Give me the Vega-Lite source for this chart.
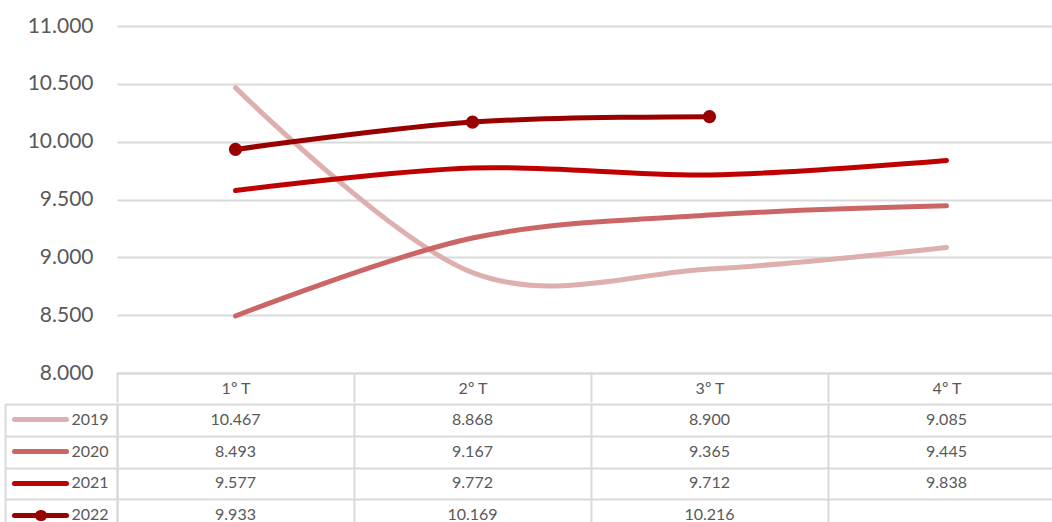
{
  "$schema": "https://vega.github.io/schema/vega-lite/v6.json",
  "padding": {"left": 4, "top": 15, "right": 0, "bottom": 0},
  "background": "white",
  "config": {
    "locale": {"number": {"decimal": ",", "thousands": ".", "grouping": [3], "currency": ["", " €"]}},
    "view": {"stroke": null},
    "font": "Lato"
  },
  "datasets": {
    "d": [
      {"q": "1º T", "year": "2019", "v": 10467},
      {"q": "2º T", "year": "2019", "v": 8868},
      {"q": "3º T", "year": "2019", "v": 8900},
      {"q": "4º T", "year": "2019", "v": 9085},
      {"q": "1º T", "year": "2020", "v": 8493},
      {"q": "2º T", "year": "2020", "v": 9167},
      {"q": "3º T", "year": "2020", "v": 9365},
      {"q": "4º T", "year": "2020", "v": 9445},
      {"q": "1º T", "year": "2021", "v": 9577},
      {"q": "2º T", "year": "2021", "v": 9772},
      {"q": "3º T", "year": "2021", "v": 9712},
      {"q": "4º T", "year": "2021", "v": 9838},
      {"q": "1º T", "year": "2022", "v": 9933},
      {"q": "2º T", "year": "2022", "v": 10169},
      {"q": "3º T", "year": "2022", "v": 10216}
    ]
  },
  "spacing": 0,
  "vconcat": [
    {
      "width": 948,
      "height": 347,
      "data": {"name": "d"},
      "layer": [
        {
          "mark": {"type": "line", "interpolate": "cardinal", "strokeWidth": 5, "strokeCap": "round"},
          "encoding": {
            "x": {
              "field": "q", "type": "nominal", "sort": null,
              "scale": {"type": "band", "domain": ["1º T", "2º T", "3º T", "4º T"], "paddingInner": 0, "paddingOuter": 0},
              "axis": {
                "orient": "bottom", "title": null, "grid": false,
                "domain": true, "domainColor": "#d9d9d9", "domainWidth": 2,
                "ticks": true, "tickBand": "extent", "tickSize": 28, "tickColor": "#d9d9d9", "tickWidth": 2, "tickCap": "square",
                "labelFont": "Lato", "labelFontSize": 16, "labelColor": "#595959",
                "labelPadding": -13, "labelBaseline": "middle", "labelAngle": 0
              }
            },
            "y": {
              "field": "v", "type": "quantitative",
              "scale": {"domain": [8000, 11000], "nice": false, "zero": false},
              "axis": {
                "values": [8000, 8500, 9000, 9500, 10000, 10500, 11000],
                "format": ",.0f", "title": null, "domain": false, "ticks": false,
                "grid": true, "gridColor": "#d9d9d9", "gridWidth": 2,
                "labelFont": "Lato", "labelFontSize": 21, "labelColor": "#595959", "labelPadding": 24
              }
            },
            "color": {
              "field": "year", "type": "nominal",
              "scale": {"domain": ["2019", "2020", "2021", "2022"], "range": ["#DEAFAF", "#CC6666", "#BF0000", "#990000"]},
              "legend": null
            }
          }
        },
        {
          "transform": [{"filter": "datum.year == '2022'"}],
          "mark": {"type": "point", "filled": true, "size": 175, "opacity": 1, "color": "#990000"},
          "encoding": {
            "x": {"field": "q", "type": "nominal", "sort": null},
            "y": {"field": "v", "type": "quantitative"}
          }
        }
      ]
    },
    {
      "width": 948,
      "height": 127,
      "data": {"name": "d"},
      "layer": [
        {
          "mark": {"type": "text", "font": "Lato", "fontSize": 16, "color": "#595959", "baseline": "middle", "align": "center"},
          "encoding": {
            "x": {
              "field": "q", "type": "nominal", "sort": null,
              "scale": {"type": "band", "domain": ["1º T", "2º T", "3º T", "4º T"], "paddingInner": 0, "paddingOuter": 0},
              "axis": {"orient": "bottom", "title": null, "grid": true, "tickBand": "extent", "gridColor": "#d9d9d9", "gridWidth": 2, "labels": false, "ticks": false, "domain": false}
            },
            "y": {
              "field": "year", "type": "nominal",
              "scale": {"type": "band", "domain": ["2019", "2020", "2021", "2022"], "paddingInner": 0, "paddingOuter": 0},
              "axis": {
                "orient": "left", "title": null, "grid": true, "tickBand": "extent", "gridColor": "#d9d9d9", "gridWidth": 2,
                "ticks": true, "tickSize": 112, "tickColor": "#d9d9d9", "tickWidth": 2,
                "domain": true, "domainColor": "#d9d9d9", "domainWidth": 2, "labels": false
              }
            },
            "text": {"field": "v", "type": "quantitative", "format": ",.0f"}
          }
        },
        {
          "mark": {"type": "text", "text": "", "opacity": 0},
          "encoding": {
            "y": {
              "field": "year", "type": "nominal",
              "scale": {"type": "band", "domain": ["2019", "2020", "2021", "2022"], "paddingInner": 0, "paddingOuter": 0},
              "axis": {
                "orient": "left", "offset": 51, "title": null, "domain": false, "grid": false,
                "ticks": true, "tickSize": 52, "tickWidth": 5, "tickCap": "round", "bandPosition": 0.5,
                "tickColor": {
                  "condition": [
                    {"test": "datum.value == '2019'", "value": "#DEAFAF"},
                    {"test": "datum.value == '2020'", "value": "#CC6666"},
                    {"test": "datum.value == '2021'", "value": "#BF0000"}
                  ],
                  "value": "#990000"
                },
                "labels": true, "labelPadding": -94, "labelAlign": "right",
                "labelFont": "Lato", "labelFontSize": 16, "labelColor": "#595959"
              }
            }
          }
        },
        {
          "mark": {"type": "text", "text": "", "opacity": 0},
          "encoding": {
            "y": {
              "field": "year", "type": "nominal",
              "scale": {"type": "band", "domain": ["2019", "2020", "2021", "2022"], "paddingInner": 0, "paddingOuter": 0},
              "axis": {
                "orient": "left", "offset": 76, "title": null, "domain": false, "grid": false,
                "ticks": true, "tickSize": 1, "tickWidth": 11, "tickCap": "round", "bandPosition": 0.5,
                "tickColor": {"condition": {"test": "datum.value == '2022'", "value": "#990000"}, "value": "transparent"},
                "labels": false
              }
            }
          }
        },
        {
          "mark": {"type": "text", "text": "", "opacity": 0},
          "encoding": {
            "y": {
              "field": "year", "type": "nominal",
              "scale": {"type": "band", "domain": ["2019", "2020", "2021", "2022"], "paddingInner": 0, "paddingOuter": 0},
              "axis": {
                "orient": "left", "offset": 112, "title": null, "domain": true, "domainColor": "#d9d9d9", "domainWidth": 2,
                "ticks": false, "labels": false, "grid": false
              }
            }
          }
        }
      ],
      "resolve": {"axis": {"y": "independent"}}
    }
  ]
}
